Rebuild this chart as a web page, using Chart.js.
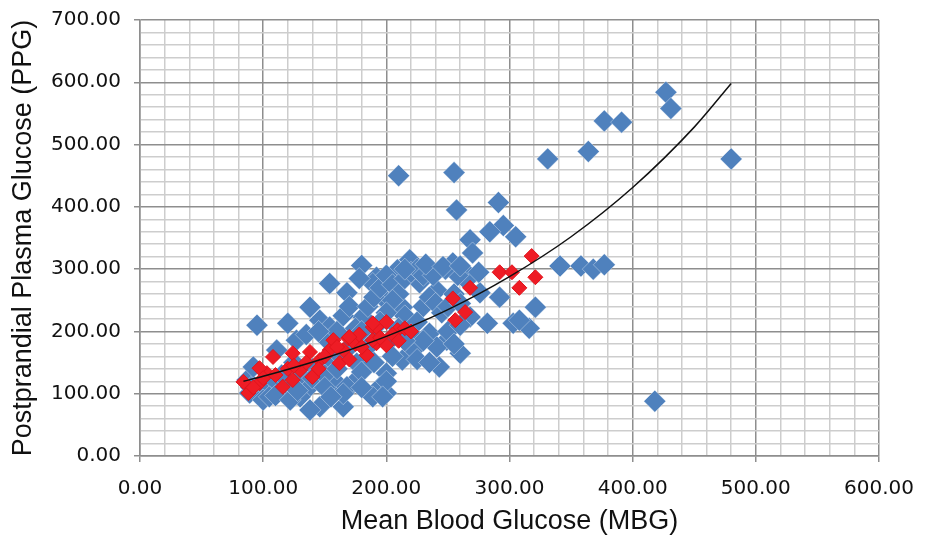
<!DOCTYPE html>
<html>
<head>
<meta charset="utf-8">
<script src="https://cdn.jsdelivr.net/npm/chart.js@4/dist/chart.umd.min.js"></script>
<style>
    body { margin: 0; background: #fff; }
    #wrap { width: 935px; height: 541px; position: relative; }
</style>
</head>
<body>
<div id="wrap"><canvas id="glucoseChart"></canvas></div>
<script>
// Blue series: [MBG, PPG]
const bluePoints = [
    [210, 450], [255, 455], [257, 395], [291, 407], [295, 370], [284, 360], [305, 352], [268, 347],
    [270, 326], [331, 477], [364, 489], [377, 538], [391, 536], [427, 584], [431, 558], [480, 477],
    [341, 305], [358, 305], [368, 300], [377, 307], [418, 88],
    [321, 239], [303, 213], [316, 205], [308, 218], [292, 255],
    [219, 315], [254, 310], [209, 299], [227, 278], [241, 266], [265, 282], [276, 262], [192, 287],
    [197, 255], [213, 239], [268, 223], [282, 213], [235, 197], [249, 186], [241, 175], [222, 170],
    [203, 186], [243, 143], [200, 133], [195, 111], [200, 101], [213, 154],
    [180, 306], [154, 277], [168, 262], [189, 277], [138, 239], [95, 210], [120, 213], [146, 218],
    [154, 207], [181, 223], [187, 191], [127, 186], [111, 170], [87, 122], [100, 106], [119, 101],
    [135, 106], [146, 79], [165, 79], [160, 117], [173, 117], [189, 95], [89, 101], [176, 149],
    [138, 74], [100, 90], [92, 143], [168, 111],
    [150, 190], [160, 200], [165, 225], [170, 240], [175, 205], [185, 240], [190, 255], [195, 270],
    [200, 290], [205, 275], [210, 260], [215, 285], [220, 295], [225, 300], [230, 290], [205, 250],
    [215, 225], [225, 215], [230, 240], [235, 255], [240, 245], [245, 230], [250, 240], [255, 260],
    [260, 245], [262, 300], [258, 290], [248, 300], [238, 290], [200, 230], [195, 215], [210, 205],
    [220, 195], [185, 175], [170, 175], [160, 160], [150, 150], [140, 140], [130, 130], [125, 150],
    [135, 195], [145, 200], [140, 125], [120, 120], [110, 120], [105, 95], [115, 130], [150, 130],
    [160, 140], [180, 135], [190, 150], [205, 160], [225, 155], [235, 150], [250, 200], [260, 210],
    [230, 185], [180, 200], [200, 120], [215, 185], [165, 100], [150, 110], [130, 95], [178, 285],
    [215, 300], [232, 308], [246, 304], [260, 305], [275, 295], [260, 165],
    [255, 180], [197, 95], [90, 110], [110, 97], [122, 90], [128, 105], [155, 95], [180, 110]
];

// Red series: [MBG, PPG]
const redPoints = [
    [84, 119], [88, 101], [108, 159], [103, 133], [116, 111], [124, 165], [138, 167], [130, 138],
    [146, 154], [154, 170], [162, 149], [157, 186], [169, 189], [184, 162], [189, 207], [192, 181],
    [124, 122], [97, 117], [140, 127], [97, 141], [292, 295], [268, 270], [308, 270], [254, 253],
    [264, 231], [256, 218], [200, 178], [189, 186], [209, 202], [192, 207], [318, 321], [321, 287],
    [302, 295], [110, 130], [120, 140], [135, 150], [150, 160], [165, 170], [175, 180], [180, 175],
    [195, 190], [205, 195], [210, 185], [215, 205], [220, 200], [170, 155], [145, 140], [100, 125],
    [92, 110], [125, 145], [178, 195], [160, 175], [200, 215], [189, 213], [170, 191]
];

// Trendline
const trendX = [84, 100, 150, 200, 250, 300, 350, 400, 450, 480];
const trendY = [120, 128, 157, 192, 235, 288, 352, 431, 528, 598];

const toXY = arr => arr.map(p => ({ x: p[0], y: p[1] }));
const trendPoints = trendX.map((x, i) => ({ x: x, y: trendY[i] }));

const isMajor = v => Math.round(v) % 100 === 0;
const tickFont = { family: 'DejaVu Sans', size: 20 };
const titleFont = { family: 'Liberation Sans', size: 27 };

function axisOptions(max, titleText, isX) {
    return {
        type: 'linear',
        min: 0,
        max: max,
        ticks: {
            stepSize: 20,
            autoSkip: false,
            maxRotation: 0,
            minRotation: 0,
            color: '#111',
            font: tickFont,
            padding: isX ? 15 : 13,
            callback: v => isMajor(v) ? v.toFixed(2) : ''
        },
        grid: {
            color: ctx => isMajor(ctx.tick.value) ? '#8e8e8e' : '#cdcdcd',
            lineWidth: 1.5,
            tickColor: ctx => isMajor(ctx.tick.value) ? '#8e8e8e' : 'rgba(0,0,0,0)',
            tickLength: 6
        },
        border: { display: true, color: '#8e8e8e', width: 1.5 },
        title: {
            display: true,
            text: titleText,
            color: '#111',
            font: titleFont,
            padding: isX ? { top: 0, bottom: 3 } : { top: 7, bottom: 0 }
        },
        afterFit: scale => {
            if (isX) {
                scale.height = 85;
            } else {
                scale.width = 140;
                // let the plot area start right at the layout padding
                scale.paddingTop = 0;
                scale.paddingBottom = 0;
            }
        }
    };
}

new Chart(document.getElementById('glucoseChart'), {
    type: 'scatter',
    data: {
        datasets: [{
            label: 'Trend',
            data: trendPoints,
            showLine: true,
            borderColor: '#111',
            borderWidth: 1.5,
            pointRadius: 0,
            cubicInterpolationMode: 'monotone',
            order: 0
        }, {
            label: 'Red',
            data: toXY(redPoints),
            pointStyle: 'rectRot',
            pointRadius: 7.5,
            backgroundColor: '#EE1C25',
            borderColor: '#E0141C',
            borderWidth: 1,
            order: 1
        }, {
            label: 'Blue',
            data: toXY(bluePoints),
            pointStyle: 'rectRot',
            pointRadius: 11,
            backgroundColor: '#4F81BD',
            borderColor: 'rgba(255,255,255,0.35)',
            borderWidth: 1,
            order: 2
        }]
    },
    options: {
        responsive: true,
        maintainAspectRatio: false,
        animation: false,
        events: [],
        layout: { padding: { top: 20, right: 56, left: 0, bottom: 0 } },
        plugins: {
            legend: { display: false },
            tooltip: { enabled: false }
        },
        scales: {
            x: axisOptions(600, 'Mean Blood Glucose (MBG)', true),
            y: axisOptions(700, 'Postprandial Plasma Glucose (PPG)', false)
        }
    }
});
</script>
</body>
</html>
